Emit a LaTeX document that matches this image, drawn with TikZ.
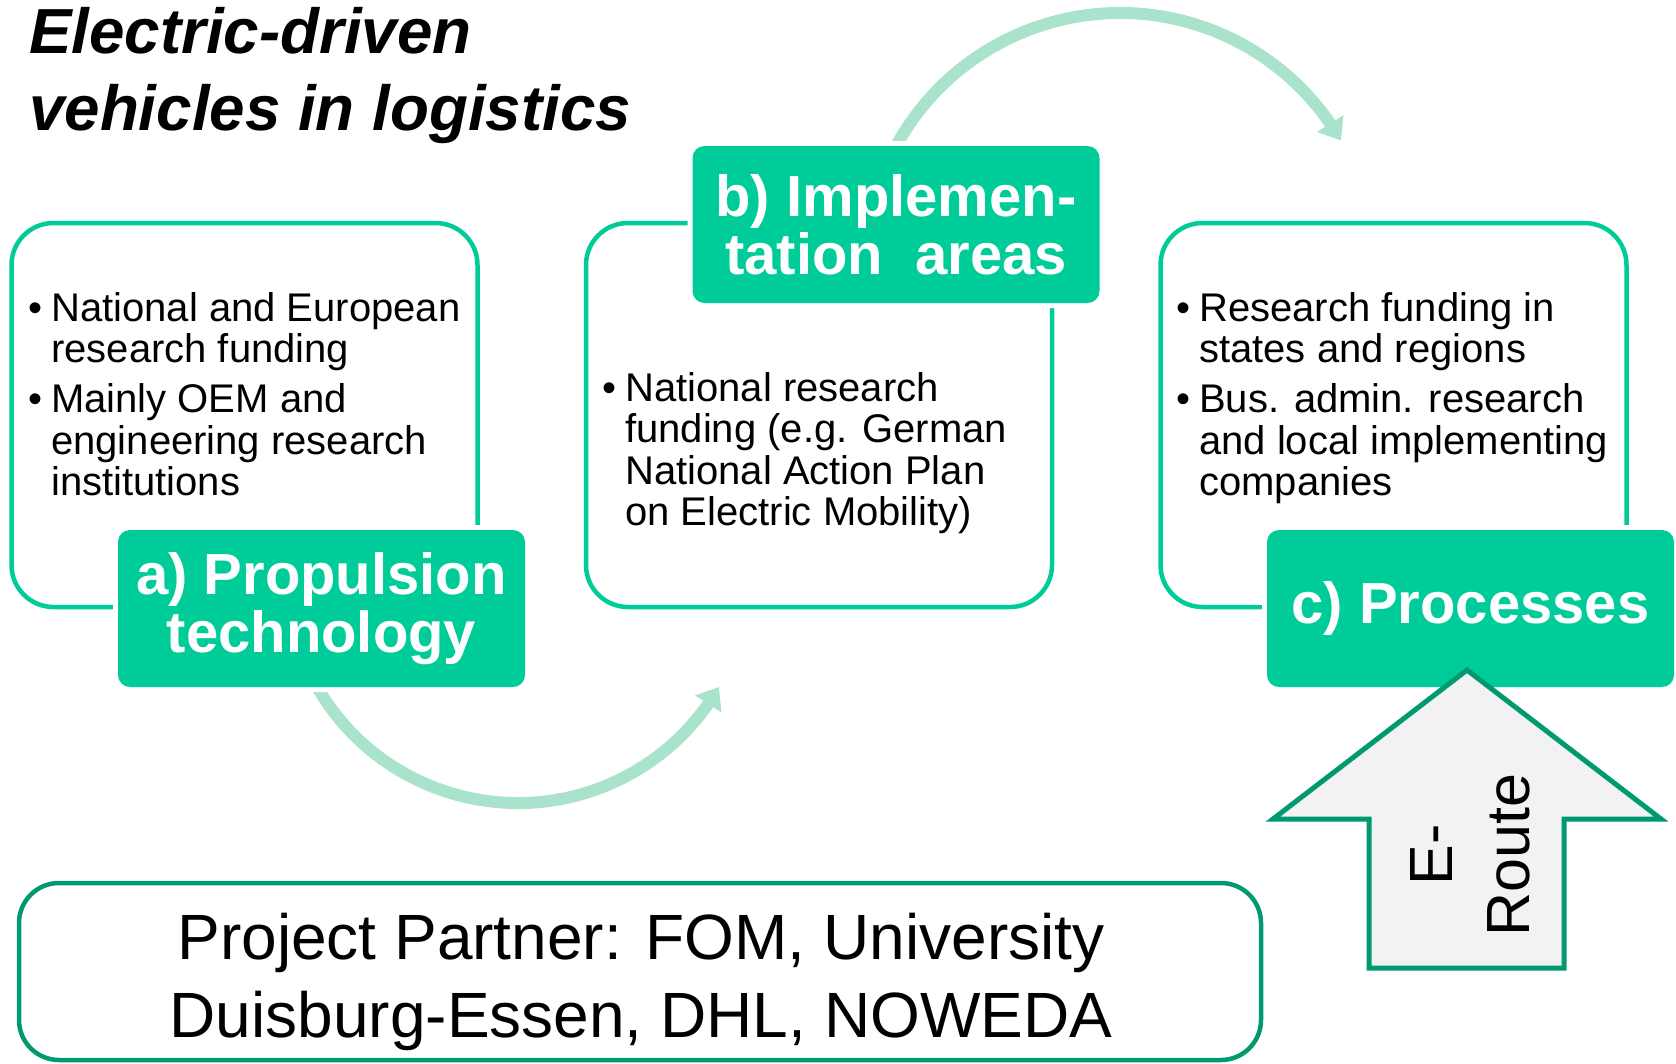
\documentclass[tikz,border=0pt]{standalone}
\usepackage{fontspec}
\setmainfont{Liberation Sans}
\usetikzlibrary{arrows.meta,bending}

\definecolor{mint}{HTML}{00CC99}
\definecolor{deepmint}{HTML}{009970}
\definecolor{paleflow}{HTML}{A9E3CB}
\definecolor{arrowfill}{HTML}{F2F2F2}

\begin{document}
\begin{tikzpicture}[x=1pt, y=-1pt,
  areabox/.style={draw=mint, line width=4.5pt, rounded corners=42pt,
    minimum width=466pt, minimum height=384pt, inner sep=0pt, outer sep=0pt},
  tag/.style={fill=mint, text=white, rounded corners=12pt,
    minimum width=407pt, minimum height=157pt, inner sep=0pt, align=center,
    font=\fontsize{58}{58}\selectfont\bfseries,
    preaction={draw=white, line width=10pt}},
  bullets/.style={anchor=base west, inner sep=0pt,
    font=\fontsize{40}{41.5}\selectfont},
  flow/.style={draw=paleflow, line width=12pt,
    -{Triangle[length=20pt, width=30pt]}},
  partnerbox/.style={draw=deepmint, line width=4.5pt, rounded corners=40pt,
    minimum width=1242pt, minimum height=177pt, inner sep=0pt},
  routearrow/.style={draw=deepmint, line width=5pt, fill=arrowfill,
    line join=miter},
]
% canvas
\useasboundingbox[fill=white] (0,0) rectangle (1676,1063);

% title
\node[anchor=base west, inner sep=0pt,
      font=\fontsize{63.7}{77}\selectfont\bfseries\itshape] (title) at (29,53)
  {\begin{tabular}[t]{@{}l@{}}Electric-driven\\vehicles in logistics\end{tabular}};

% the three area frames
\node[areabox] (boxA) at (244.5,415) {};
\node[areabox] (boxB) at (819,415) {};
\node[areabox] (boxC) at (1393.5,415) {};

% curved flow arrows between the areas
\coordinate (flowAstart) at (317.1,687);
\coordinate (flowBstart) at (894.9,148.3);
\draw[flow] (flowAstart) arc[start angle=150, end angle=30, radius=232];
\draw[flow] (flowBstart) arc[start angle=-152, end angle=-30, radius=255];

% area tags
\node[tag] (tagA) at (321.5,608.5) {a) Propulsion\\technology};
\node[tag] (tagB) at (896,224.5) {b) Implemen-\\tation\ \ areas};
\node[tag] (tagC) at (1470.5,608.5) {c) Processes};

% bullet lists
\node[bullets] (listA) at (28,321)
  {\begin{tabular}[t]{@{}l@{}l@{}}
   \makebox[23pt][l]{\textbullet} & National and European\\
   & research funding\\[8.5pt]
   \makebox[23pt][l]{\textbullet} & Mainly OEM and\\
   & engineering research\\
   & institutions
   \end{tabular}};
\node[bullets] (listB) at (602,401)
  {\begin{tabular}[t]{@{}l@{}l@{}}
   \makebox[23pt][l]{\textbullet} & National research\\
   & funding (e.g. German\\
   & National Action Plan\\
   & on Electric Mobility)
   \end{tabular}};
\node[bullets] (listC) at (1176,321)
  {\begin{tabular}[t]{@{}l@{}l@{}}
   \makebox[23pt][l]{\textbullet} & Research funding in\\
   & states and regions\\[8.5pt]
   \makebox[23pt][l]{\textbullet} & Bus. admin. research\\
   & and local implementing\\
   & companies
   \end{tabular}};

% E-Route block arrow pointing into the processes tag
\draw[routearrow] (1467,670) -- (1661,819) -- (1564,819) -- (1564,968)
  -- (1369,968) -- (1369,819) -- (1273,819) -- cycle;
\node[rotate=90, align=center, inner sep=0pt,
      font=\fontsize{61}{77}\selectfont] (eroute) at (1470,855) {E-\\Route};

% project partners
\node[partnerbox] (partners) at (640,971.5) {};
\node[anchor=base, inner sep=0pt, font=\fontsize{64}{78}\selectfont]
  (partnerstext) at (641,959)
  {\begin{tabular}[t]{@{}c@{}}Project Partner: FOM, University\\
   Duisburg-Essen, DHL, NOWEDA\end{tabular}};
\end{tikzpicture}
\end{document}
